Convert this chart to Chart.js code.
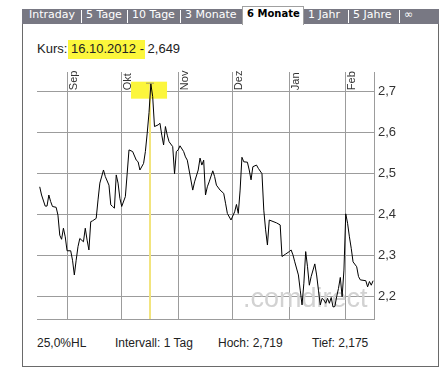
<!DOCTYPE html>
<html>
<head>
<meta charset="utf-8">
<script src="https://cdn.jsdelivr.net/npm/chart.js@4"></script>
<style>
  body { margin: 0; width: 448px; height: 370px; position: relative; background: #fff;
         font-family: "Liberation Sans", Arial, sans-serif; color: #222; overflow: hidden; }
  .abs { position: absolute; white-space: nowrap; }
  #frame { left: 22px; top: 9px; width: 417px; height: 358px; box-sizing: border-box;
           border: 1px solid #6a6a6a; border-top: none; }
  #tabbar { left: 22px; top: 9px; width: 417px; height: 15px; background: #787883; }
  .tab { top: 8px; line-height: 15px; font: 11px "DejaVu Sans", Verdana, sans-serif; color: #fff; }
  .sep { top: 10px; width: 1px; height: 13px; background: #fff; }
  #active { left: 242px; top: 6px; width: 62px; height: 19px; background: #fff; box-sizing: border-box;
            border: 1px solid #a0a0a0; border-bottom: none; }
  #activeText { left: 247px; top: 8px; line-height: 15px; font: bold 10px "DejaVu Sans", Verdana, sans-serif; color: #000; }
  #kurs { left: 37px; top: 41px; font-size: 13px; line-height: 15px; }
  #hl { left: 68px; top: 40px; width: 77px; height: 19px; background: #fcf63c; }
  .foot { top: 336px; font-size: 12px; line-height: 14px; }
  canvas { position: absolute; left: 0; top: 0; }
</style>
</head>
<body>
<div class="abs" id="frame"></div>
<div class="abs" id="tabbar"></div>
<span class="abs tab" style="left:29px">Intraday</span>
<div class="abs sep" style="left:81px"></div>
<span class="abs tab" style="left:86px">5 Tage</span>
<div class="abs sep" style="left:127px"></div>
<span class="abs tab" style="left:132px">10 Tage</span>
<div class="abs sep" style="left:180px"></div>
<span class="abs tab" style="left:185px">3 Monate</span>
<div class="abs" id="active"></div>
<span class="abs" id="activeText">6 Monate</span>
<span class="abs tab" style="left:308px">1 Jahr</span>
<div class="abs sep" style="left:348px"></div>
<span class="abs tab" style="left:353px">5 Jahre</span>
<div class="abs sep" style="left:399px"></div>
<span class="abs tab" style="left:404px">∞</span>

<div class="abs" id="hl"></div>
<span class="abs" id="kurs">Kurs: 16.10.2012 - 2,649</span>

<span class="abs foot" style="left:37px">25,0%HL</span>
<span class="abs foot" style="left:115px">Intervall: 1 Tag</span>
<span class="abs foot" style="left:218px">Hoch: 2,719</span>
<span class="abs foot" style="left:312px">Tief: 2,175</span>

<canvas id="chartKurs" width="448" height="370"></canvas>

<script>
// data
const monthStarts = ["2012-09-01", "2012-10-01", "2012-11-01", "2012-12-01", "2013-01-01", "2013-02-01"];
const monthLabels = ["Sep", "Okt", "Nov", "Dez", "Jan", "Feb"];
const yTicks = [2.2, 2.3, 2.4, 2.5, 2.6, 2.7];

const dates = [
  "2012-08-17", "2012-08-18", "2012-08-20", "2012-08-21", "2012-08-22", "2012-08-23", "2012-08-24",
  "2012-08-26", "2012-08-27", "2012-08-28", "2012-08-29", "2012-08-30", "2012-08-31",
  "2012-09-01", "2012-09-03", "2012-09-04", "2012-09-05", "2012-09-06", "2012-09-07", "2012-09-08",
  "2012-09-10", "2012-09-11", "2012-09-12", "2012-09-13", "2012-09-14", "2012-09-15", "2012-09-17",
  "2012-09-18", "2012-09-19", "2012-09-21", "2012-09-22", "2012-09-24", "2012-09-25", "2012-09-26",
  "2012-09-27", "2012-09-28", "2012-09-29", "2012-09-30",
  "2012-10-01", "2012-10-03", "2012-10-04", "2012-10-05", "2012-10-07", "2012-10-09", "2012-10-10",
  "2012-10-11", "2012-10-13", "2012-10-14", "2012-10-15", "2012-10-16", "2012-10-17", "2012-10-18",
  "2012-10-19", "2012-10-21", "2012-10-22", "2012-10-23", "2012-10-24", "2012-10-25", "2012-10-26",
  "2012-10-27", "2012-10-29", "2012-10-30", "2012-10-31",
  "2012-11-01", "2012-11-02", "2012-11-04", "2012-11-05", "2012-11-06", "2012-11-09", "2012-11-10",
  "2012-11-12", "2012-11-13", "2012-11-14", "2012-11-15", "2012-11-16", "2012-11-17", "2012-11-18",
  "2012-11-20", "2012-11-21", "2012-11-22", "2012-11-24", "2012-11-26", "2012-11-27", "2012-11-28",
  "2012-11-30",
  "2012-12-02", "2012-12-03", "2012-12-04", "2012-12-05", "2012-12-06", "2012-12-07", "2012-12-09",
  "2012-12-10", "2012-12-11", "2012-12-12", "2012-12-14", "2012-12-15", "2012-12-17", "2012-12-18",
  "2012-12-19", "2012-12-20", "2012-12-21", "2012-12-25", "2012-12-27", "2012-12-28", "2012-12-30",
  "2013-01-01", "2013-01-02", "2013-01-03", "2013-01-04", "2013-01-06", "2013-01-07", "2013-01-08",
  "2013-01-09", "2013-01-10", "2013-01-11", "2013-01-12", "2013-01-13", "2013-01-15", "2013-01-16",
  "2013-01-17", "2013-01-18", "2013-01-19", "2013-01-20", "2013-01-21", "2013-01-22", "2013-01-23",
  "2013-01-24", "2013-01-25", "2013-01-26", "2013-01-27", "2013-01-28", "2013-01-29", "2013-01-30",
  "2013-01-31",
  "2013-02-01", "2013-02-02", "2013-02-03", "2013-02-04", "2013-02-05", "2013-02-07", "2013-02-08",
  "2013-02-09", "2013-02-12", "2013-02-13", "2013-02-14", "2013-02-15", "2013-02-16"
];
const closes = [
  2.468, 2.448, 2.421, 2.421, 2.448, 2.432, 2.420,
  2.418, 2.399, 2.350, 2.340, 2.367, 2.346,
  2.312, 2.312, 2.289, 2.253, 2.289, 2.322, 2.342,
  2.334, 2.367, 2.338, 2.314, 2.383, 2.385, 2.391,
  2.436, 2.477, 2.509, 2.493, 2.472, 2.424, 2.420,
  2.416, 2.497, 2.477, 2.440,
  2.420, 2.444, 2.500, 2.558, 2.554, 2.533, 2.529,
  2.509, 2.525, 2.554, 2.599, 2.649, 2.719, 2.688,
  2.615, 2.619, 2.623, 2.594, 2.570, 2.615, 2.594,
  2.578, 2.566, 2.500, 2.554,
  2.558, 2.568, 2.554, 2.541, 2.533, 2.460, 2.480,
  2.509, 2.538, 2.521, 2.533, 2.448, 2.468, 2.480,
  2.507, 2.493, 2.472, 2.460, 2.452, 2.428, 2.403,
  2.387,
  2.407, 2.425, 2.403, 2.460, 2.540, 2.529, 2.528,
  2.509, 2.485, 2.517, 2.521, 2.513, 2.500, 2.411,
  2.363, 2.326, 2.387, 2.380, 2.375, 2.298, 2.304,
  2.310, 2.314, 2.302, 2.285, 2.253, 2.216, 2.180,
  2.233, 2.310, 2.273, 2.228, 2.249, 2.280, 2.253,
  2.216, 2.180, 2.196, 2.192, 2.184, 2.196, 2.184,
  2.198, 2.175, 2.176, 2.200, 2.220, 2.247, 2.200,
  2.265,
  2.402, 2.379, 2.346, 2.318, 2.285, 2.273, 2.249,
  2.241, 2.239, 2.224, 2.237, 2.228, 2.239
];
const markDate = "2012-10-16";

// days since 16.08.2012
function dayNum(s) {
  const p = s.split("-").map(Number);
  return (Date.UTC(p[0], p[1] - 1, p[2]) - Date.UTC(2012, 7, 16)) / 86400000;
}

const gridColor = "#9c9c9c";

/* yellow marker line + highlighter box at the selected day */
const markerPlugin = {
  id: "marker",
  beforeDatasetsDraw(chart) {
    const { ctx, chartArea, scales } = chart;
    const px = scales.x.getPixelForValue(dayNum(markDate));
    const top = scales.y.getPixelForValue(2.7);
    ctx.save();
    // watermark
    ctx.font = '27px "Liberation Sans", Arial, sans-serif';
    ctx.fillStyle = "#d2d2d2";
    ctx.textBaseline = "alphabetic";
    ctx.fillText(".comdirect", chartArea.right - 131, chartArea.bottom - 12.5);
    // highlighter box
    ctx.fillStyle = "#fcf63c";
    ctx.fillRect(px - 18, top - 10, 36, 17);
    // vertical line
    ctx.strokeStyle = "#f2e47c";
    ctx.lineWidth = 2;
    ctx.beginPath();
    ctx.moveTo(px + 1, top - 9);
    ctx.lineTo(px + 1, chartArea.bottom);
    ctx.stroke();
    ctx.strokeStyle = "#a09a60";
    ctx.lineWidth = 1;
    ctx.beginPath();
    ctx.moveTo(px - 3, top - 8.5);
    ctx.lineTo(px + 5, top - 8.5);
    ctx.stroke();
    ctx.restore();
  }
};

/* month names, rotated, just right of each month line */
const monthPlugin = {
  id: "months",
  afterDraw(chart) {
    const { ctx, scales } = chart;
    const base = scales.y.getPixelForValue(2.7) - 1.5;
    ctx.save();
    ctx.font = '11px "Liberation Sans", Arial, sans-serif';
    ctx.fillStyle = "#333";
    ctx.textAlign = "left";
    ctx.textBaseline = "alphabetic";
    monthStarts.forEach((d, i) => {
      const px = scales.x.getPixelForValue(dayNum(d));
      ctx.save();
      ctx.translate(px + 9.5, base);
      ctx.rotate(-Math.PI / 2);
      ctx.fillText(monthLabels[i], 0, 0);
      ctx.restore();
    });
    ctx.restore();
  }
};

document.addEventListener("DOMContentLoaded", function () {
  new Chart("chartKurs", {
    type: "line",
    data: {
      datasets: [{
        data: dates.map((d, i) => ({ x: dayNum(d), y: closes[i] })),
        borderColor: "#000",
        borderWidth: 1,
        pointRadius: 0,
        tension: 0,
        fill: false
      }]
    },
    options: {
      responsive: false,
      animation: false,
      layout: { padding: { left: 37, top: 72, right: 34, bottom: 51 } },
      plugins: { legend: { display: false }, tooltip: { enabled: false } },
      scales: {
        x: {
          type: "linear",
          min: -0.5,
          max: 184.5,
          afterBuildTicks: (s) => { s.ticks = monthStarts.map((d) => ({ value: dayNum(d) })); },
          afterFit: (s) => { s.height = 0; },
          ticks: { display: false },
          grid: { color: gridColor, drawTicks: false },
          border: { color: gridColor }
        },
        y: {
          position: "right",
          min: 2.1456,
          max: 2.748,
          afterBuildTicks: (s) => { s.ticks = yTicks.map((v) => ({ value: v })); },
          afterFit: (s) => { s.width = 40; },
          ticks: {
            padding: 4,
            color: "#333",
            font: { family: "Liberation Sans", size: 13 },
            callback: (v) => v.toFixed(1).replace(".", ",")
          },
          grid: { color: gridColor, drawTicks: false },
          border: { color: gridColor }
        }
      }
    },
    plugins: [markerPlugin, monthPlugin]
  });
});
</script>
</body>
</html>
